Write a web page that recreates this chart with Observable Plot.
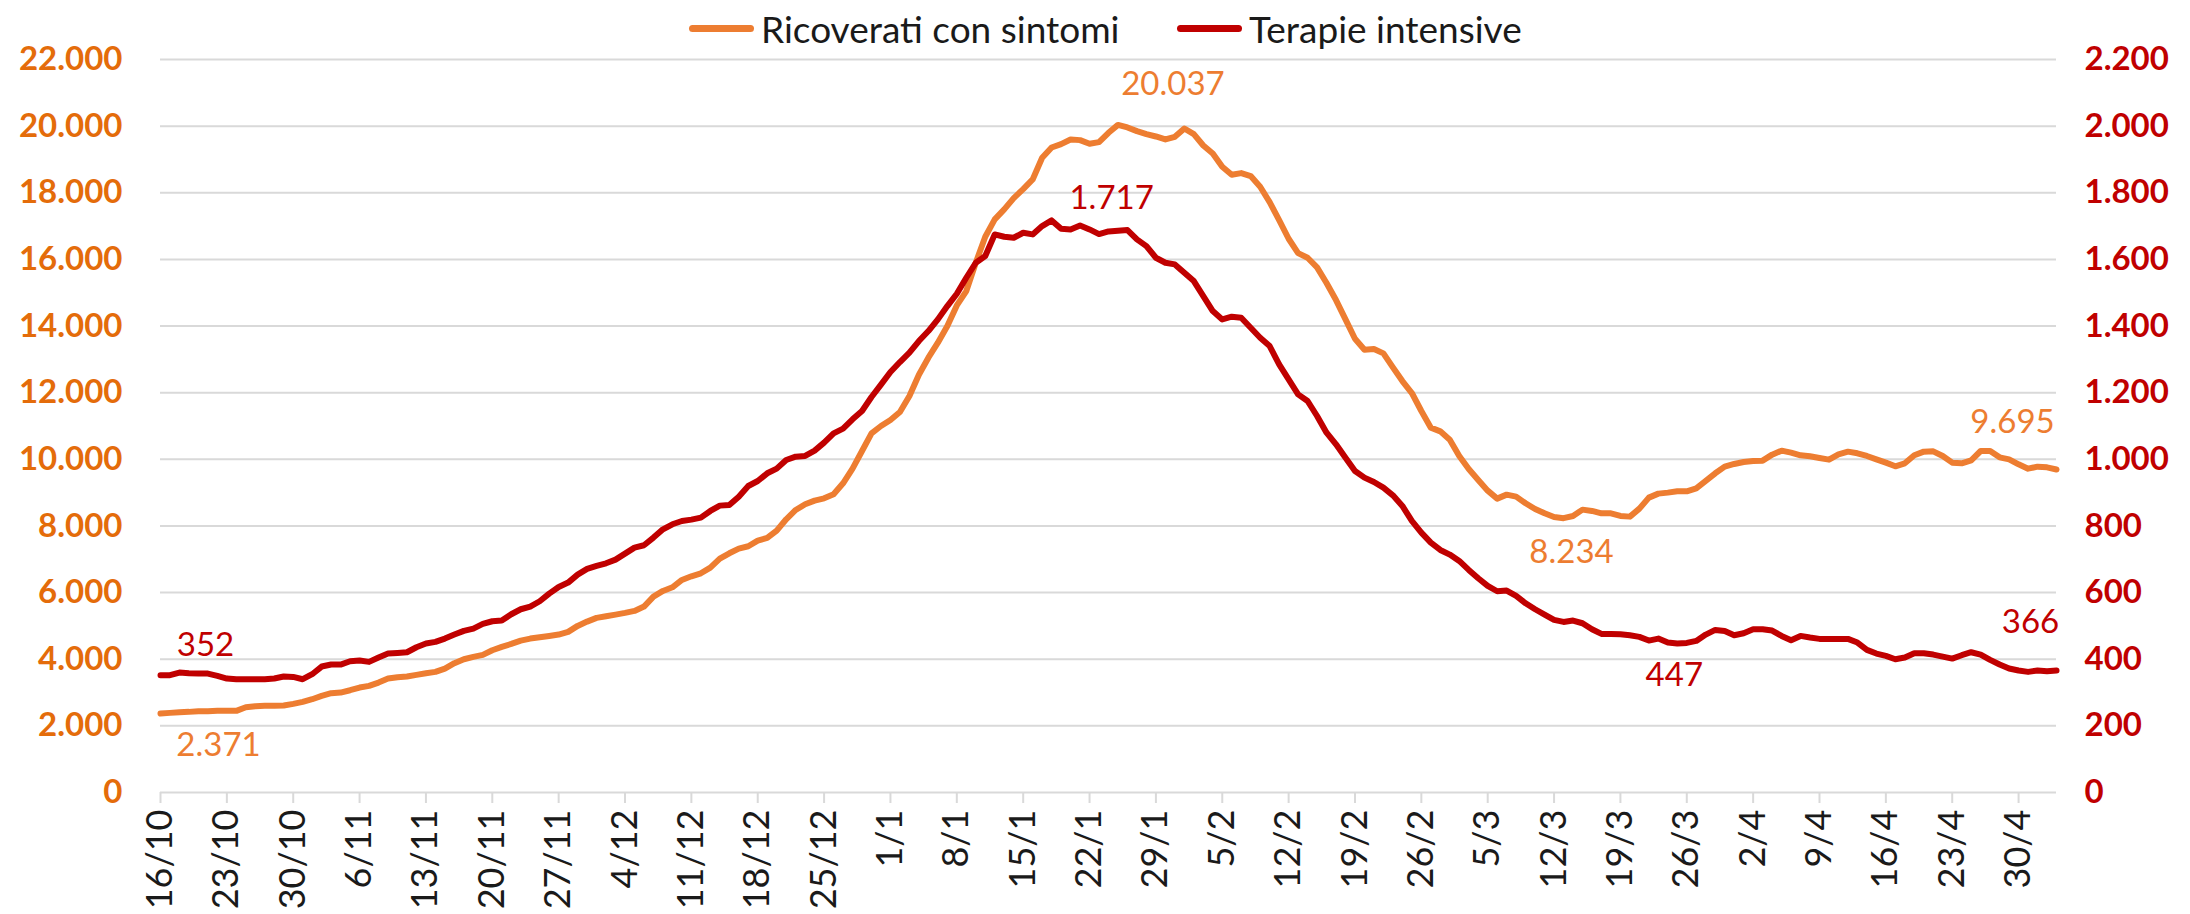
<!DOCTYPE html>
<html><head><meta charset="utf-8">
<script src="https://cdn.jsdelivr.net/npm/d3@7"></script>
<script src="https://cdn.jsdelivr.net/npm/@observablehq/plot@0.6"></script>
<style>
body{margin:0;background:#fff;font-family:Lato,"Open Sans",sans-serif;}
#legend{height:46px;width:2190px;position:relative;}
.item{position:absolute;top:5px;height:46px;display:flex;align-items:center;font-size:37px;color:#1a1a1a;white-space:nowrap;}
.sw{width:65px;height:7px;border-radius:4px;margin-right:7px;}
svg{overflow:visible}
</style></head><body>
<div id="legend"></div><div id="chart"></div>
<script>
// ---- data ----
const startDate = "2020-10-16";
const seriesNames = ["Ricoverati con sintomi", "Terapie intensive"];
const ricoverati = [
 2371,2390,2410,2420,2440,2440,2450,2450,2450,2560,
 2590,2600,2600,2610,2660,2720,2800,2900,2980,3000,
 3070,3150,3200,3300,3420,3460,3480,3530,3580,3620,
 3720,3880,4000,4070,4130,4270,4370,4460,4560,4620,
 4660,4700,4740,4820,5000,5130,5240,5290,5340,5390,
 5450,5580,5880,6050,6160,6380,6490,6580,6750,7020,
 7180,7320,7390,7560,7640,7860,8200,8480,8650,8760,
 8830,8950,9280,9720,10250,10780,11000,11180,11420,11900,
 12540,13050,13500,14000,14620,15050,15900,16680,17200,17500,
 17840,18110,18400,19050,19360,19460,19600,19580,19470,19520,
 19800,20037,19960,19850,19760,19690,19600,19680,19930,19760,
 19420,19180,18780,18540,18590,18500,18180,17720,17180,16620,
 16190,16050,15760,15290,14780,14200,13620,13290,13310,13180,
 12760,12350,11990,11450,10950,10840,10590,10100,9710,9380,
 9060,8820,8940,8880,8680,8510,8380,8270,8234,8300,
 8490,8450,8380,8380,8300,8280,8520,8850,8970,9000,
 9040,9040,9130,9350,9580,9780,9860,9920,9950,9960,
 10140,10260,10200,10120,10090,10040,9990,10150,10230,10180,
 10100,10000,9900,9790,9880,10120,10230,10240,10100,9900,
 9880,9970,10250,10250,10060,10000,9850,9720,9780,9760,
 9695];
const terapie = [
 352,352,360,358,357,357,350,342,340,340,
 340,340,342,348,347,340,355,378,384,384,
 394,396,392,405,417,419,421,436,447,452,
 462,474,485,492,506,514,516,535,550,558,
 574,597,617,630,654,671,680,688,699,717,
 735,742,765,790,805,815,819,825,845,861,
 863,888,920,935,958,972,998,1008,1010,1026,
 1050,1078,1092,1120,1145,1187,1224,1262,1292,1320,
 1355,1385,1420,1460,1497,1545,1590,1610,1675,1668,
 1665,1680,1675,1700,1717,1692,1690,1702,1690,1676,
 1684,1686,1688,1660,1640,1605,1590,1585,1560,1535,
 1490,1445,1420,1428,1425,1395,1365,1340,1285,1240,
 1195,1175,1130,1080,1045,1005,965,945,932,915,
 892,860,815,780,750,728,714,695,668,643,
 620,604,606,590,568,550,534,518,512,516,
 508,490,476,476,475,472,467,456,462,450,
 447,449,455,474,488,485,472,478,490,490,
 486,470,457,470,465,461,461,461,461,450,
 428,417,410,400,405,418,418,414,408,402,
 412,421,414,398,384,372,366,362,366,364,
 366];
const xTickLabels = ["16/10","23/10","30/10","6/11","13/11","20/11","27/11","4/12","11/12","18/12","25/12","1/1","8/1","15/1","22/1","29/1","5/2","12/2","19/2","26/2","5/3","12/3","19/3","26/3","2/4","9/4","16/4","23/4","30/4"];
const leftTicks = [0,2000,4000,6000,8000,10000,12000,14000,16000,18000,20000,22000];
const rightTicks = [0,200,400,600,800,1000,1200,1400,1600,1800,2000,2200];
// labelled points: day index in the series
const ricLabelDays = [0, 101, 148, 200];
const terLabelDays = [0, 94, 160, 200];

// ---- build ----
const ratio = 10; // right axis = left axis / 10
const colOr = "#ED7D31", colRed = "#C00000", colOrAxis = "#E46C0A";
const fmt = d3.formatLocale({decimal:",", thousands:".", grouping:[3], currency:["","€"]}).format(",");
const start = d3.utcParse("%Y-%m-%d")(startDate);
const data = ricoverati.map((v,i) => ({date: d3.utcDay.offset(start, i), ric: v, ter: terapie[i]}));
const tickDates = xTickLabels.map(s => { const [d,m] = s.split("/").map(Number); return new Date(Date.UTC(m >= 10 ? 2020 : 2021, m-1, d)); });

const FS = 33;
const ricOffsets = [[58,32],[55,-40],[8,34],[-44,-47]];
const terOffsets = [[45,-30],[60,-22],[-3,32],[-26,-48]];
const labelMarks = [];
ricLabelDays.forEach((di,k) => labelMarks.push(Plot.text([data[di]], {x:"date", y:"ric", text: d => fmt(d.ric), dx: ricOffsets[k][0], dy: ricOffsets[k][1], fill: colOr, fontSize: FS})));
terLabelDays.forEach((di,k) => labelMarks.push(Plot.text([data[di]], {x:"date", y: d => d.ter*ratio, text: d => fmt(d.ter), dx: terOffsets[k][0], dy: terOffsets[k][1], fill: colRed, fontSize: FS})));

const chart = Plot.plot({
  width: 2190, height: 868,
  marginTop: 13, marginBottom: 122, marginLeft: 160, marginRight: 134,
  style: {fontFamily: "Lato, 'Open Sans', sans-serif", background: "white", overflow: "visible"},
  x: {type: "utc", domain: [data[0].date, data[data.length-1].date], label: null},
  y: {domain: [0, 22000], label: null},
  marks: [
    Plot.gridY(leftTicks, {stroke: "#d9d9d9", strokeOpacity: 1, strokeWidth: 2}),
    Plot.axisX(tickDates, {tickSize: 11, tickPadding: 6, tickRotate: -90, stroke: "#d9d9d9", strokeWidth: 2, fill: "#1a1a1a", fontSize: 36, tickFormat: (d,i) => xTickLabels[i], label: null}),
    Plot.axisY(leftTicks, {anchor: "left", tickSize: 0, tickPadding: 38, tickFormat: fmt, fill: colOrAxis, fontSize: FS, fontWeight: "bold", label: null}),
    Plot.axisY(rightTicks.map(v => v*ratio), {anchor: "right", tickSize: 0, tickPadding: 28, tickFormat: v => fmt(v/ratio), fill: colRed, fontSize: FS, fontWeight: "bold", label: null}),
    Plot.line(data, {x: "date", y: "ric", stroke: colOr, strokeWidth: 6, strokeLinejoin: "round", strokeLinecap: "round"}),
    Plot.line(data, {x: "date", y: d => d.ter*ratio, stroke: colRed, strokeWidth: 6, strokeLinejoin: "round", strokeLinecap: "round"}),
    ...labelMarks
  ]
});
document.getElementById("chart").appendChild(chart);

// legend
const legend = document.getElementById("legend");
const legPos = [689, 1177];
[colOr, colRed].forEach((c,i) => {
  const it = document.createElement("div"); it.className = "item"; it.style.left = legPos[i] + "px";
  const sw = document.createElement("div"); sw.className = "sw"; sw.style.background = c;
  const tx = document.createElement("span"); tx.textContent = seriesNames[i];
  it.appendChild(sw); it.appendChild(tx); legend.appendChild(it);
});
</script></body></html>
